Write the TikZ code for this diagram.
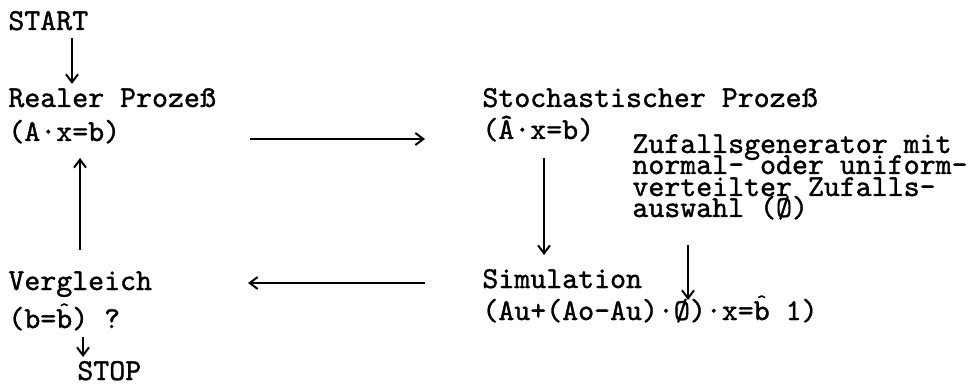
\documentclass[tikz,border=0pt]{standalone}
\usepackage{fontspec}
\usetikzlibrary{arrows.meta,calc}
\newfontfamily\tyfam{lmmono10-regular.otf}[FakeBold=1.2]
\newcommand{\tyfont}{\fontsize{15.2}{21}\selectfont\tyfam}
\newcommand{\hatb}{\rlap{\makebox[0.525em]{\raisebox{0.4em}{\fontsize{10}{10}\selectfont\textasciicircum}}}b}
\begin{document}
\begin{tikzpicture}[x=0.5pt,y=-0.5pt,
  lbl/.style={anchor=base west,inner sep=0pt,font=\tyfont},
  arr/.style={-{Straight Barb[length=4pt,width=6pt]},line width=1pt}]
\useasboundingbox (0,0) rectangle (977,384);
% linke Spalte
\node[lbl] (start) at (8,30) {START};
\node[lbl] (real) at (8,107) {Realer Prozeß};
\node[lbl] (realeq) at (8,141) {(A·x=b)};
\node[lbl] (verg) at (8,290) {Vergleich};
\node[lbl] (vergeq) at (8,328) {(b=\hatb) ?};
\node[lbl] (stop) at (77,380) {STOP};
% rechte Spalte
\node[lbl] (stoch) at (482,107) {Stochastischer Prozeß};
\node[lbl] (stocheq) at (482,139) {(Â·x=b)};
\node[lbl] (zufalla) at (632,153) {Zufallsgenerator mit};
\node[lbl] (zufallb) at (632,174) {normal- oder uniform-};
\node[lbl] (zufallc) at (632,196) {verteilter Zufalls-};
\node[lbl] (zufalld) at (632,217) {auswahl (Ø)};
\node[lbl] (sim) at (482,288) {Simulation};
\node[lbl] (simeq) at (482,320) {(Au+(Ao-Au)·Ø)·x=\hatb{} 1)};
% Pfeile
\draw[arr] ($(start.base west)+(64,8)$) -- ($(real.base west)+(64,-23)$);
\draw[arr] ($(realeq.base west)+(242,-2)$) -- ($(stocheq.base west)+(-57,0)$);
\draw[arr] ($(stocheq.base west)+(62,19)$) -- ($(sim.base west)+(62,-33)$);
\draw[arr] ($(zufalld.base west)+(56,28)$) -- ($(simeq.base west)+(206,-20)$);
\draw[arr] ($(sim.base west)+(-57,-5)$) -- ($(verg.base west)+(240,-7)$);
\draw[arr] ($(verg.base west)+(72,-40)$) -- ($(realeq.base west)+(72,17)$);
\draw[arr] ($(vergeq.base west)+(75,9)$) -- ($(stop.base west)+(6,-23)$);
\end{tikzpicture}
\end{document}
